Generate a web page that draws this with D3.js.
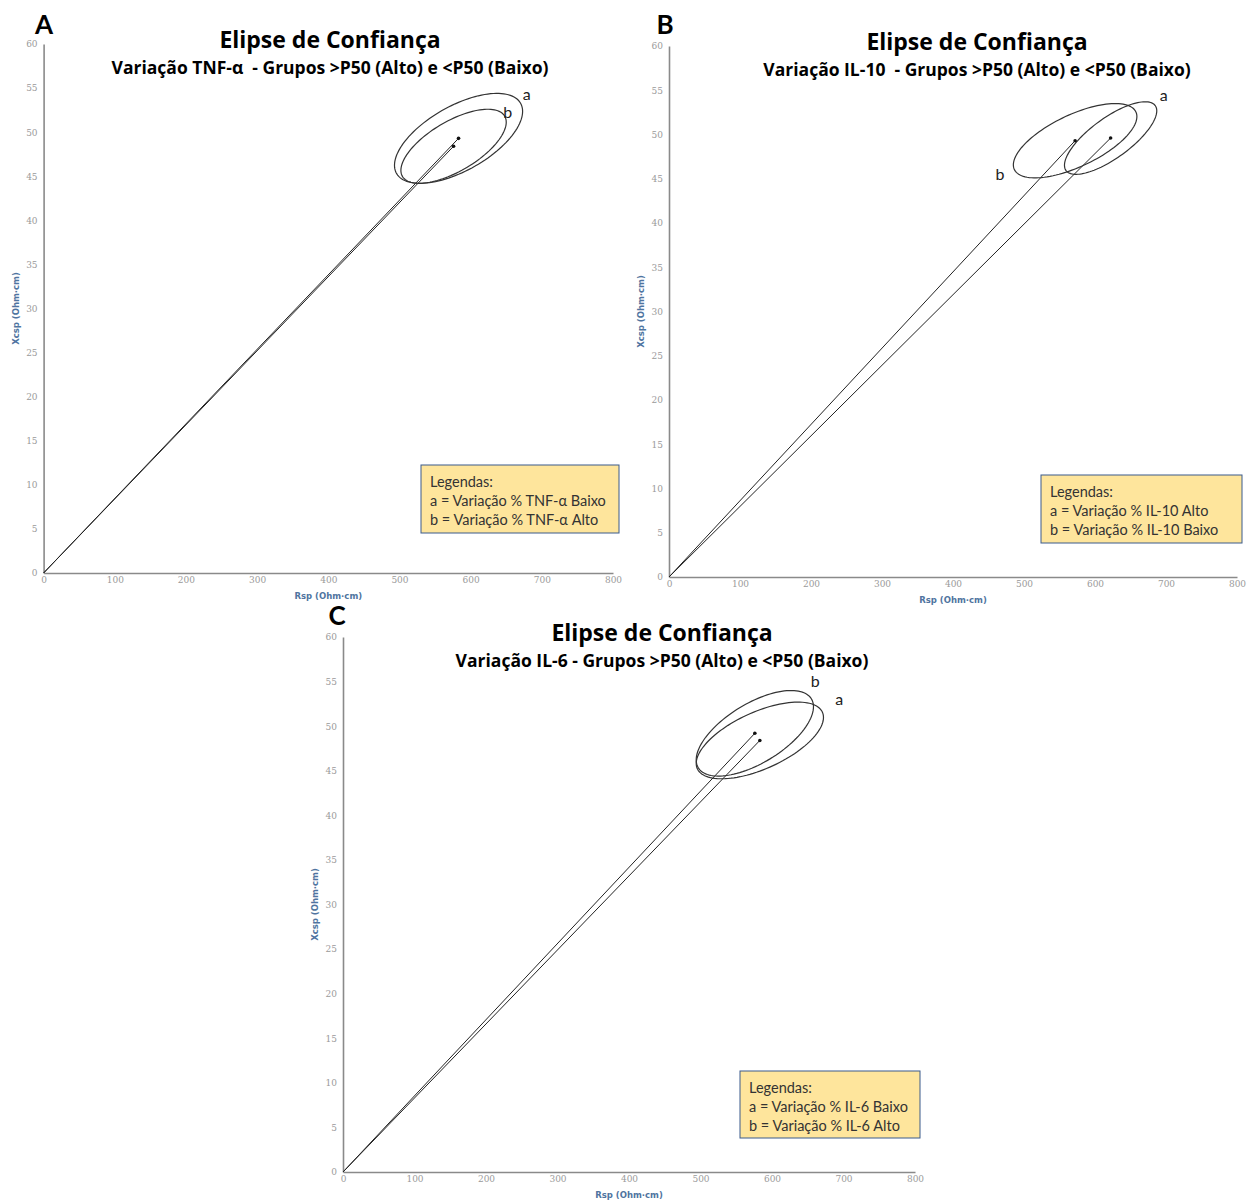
<!DOCTYPE html>
<html>
<head>
<meta charset="utf-8">
<script src="https://cdn.jsdelivr.net/npm/d3@7"></script>
<style>
  body { margin: 0; background: #fff; }
  text { font-family: Lato, "Open Sans", sans-serif; white-space: pre; }
</style>
</head>
<body>
<script>
// chart values
var panelLetters = ["A", "B", "C"];
var titles = ["Elipse de Confiança", "Elipse de Confiança", "Elipse de Confiança"];
var subtitles = [
  "Variação TNF-α  - Grupos >P50 (Alto) e <P50 (Baixo)",
  "Variação IL-10  - Grupos >P50 (Alto) e <P50 (Baixo)",
  "Variação IL-6 - Grupos >P50 (Alto) e <P50 (Baixo)"
];
var groupNames = ["a", "b"];
// mean vectors (Rsp, Xcsp) per panel, per group [a, b]
var meanRsp  = [[583, 576], [622, 572], [583, 576]];
var meanXcsp = [[49.3, 48.4], [49.6, 49.3], [48.4, 49.2]];
// ellipse spread and correlation
var sdRsp  = [[90, 74], [65, 87], [89, 82]];
var sdXcsp = [[5.1, 4.2], [4.1, 4.2], [4.3, 4.8]];
var corr   = [[0.6, 0.65], [0.75, 0.65], [0.6, 0.62]];
var legendLines = [
  ["Legendas:", "a = Variação % TNF-α Baixo", "b = Variação % TNF-α Alto"],
  ["Legendas:", "a = Variação % IL-10 Alto", "b = Variação % IL-10 Baixo"],
  ["Legendas:", "a = Variação % IL-6 Baixo", "b = Variação % IL-6 Alto"]
];
var xTicks = [0, 100, 200, 300, 400, 500, 600, 700, 800];
var yTicks = [0, 5, 10, 15, 20, 25, 30, 35, 40, 45, 50, 55, 60];
var xLabel = "Rsp (Ohm·cm)";
var yLabel = "Xcsp (Ohm·cm)";

// layout of the three panels (pixels)
var layout = [
  {left: 43.6, right: 613, bottom: 573, top: 44, letter: [44, 25], titleX: 330, titleY: 40, subY: 68,
   legend: [421, 465, 198, 68], lab: [[0.3, 7, -6], [0.5, 8, 2]]},
  {left: 669, right: 1237, bottom: 577, top: 46, letter: [665, 25], titleX: 977, titleY: 42, subY: 70,
   legend: [1041, 475, 201, 68], lab: [[0.2, 8, -10], [Math.PI + 0.3, -16, 4]]},
  {left: 343, right: 915, bottom: 1172, top: 637, letter: [337, 616], titleX: 662, titleY: 633, subY: 661,
   legend: [740, 1071, 180, 67], lab: [[0.2, 17, -11], [0.6, 12, -9]]}
];

var svg = d3.select("body").append("svg")
    .attr("width", 1247)
    .attr("height", 1201);

function ellipsePoints(p, g) {
  var pts = [];
  var s = Math.sqrt(1 - corr[p][g] * corr[p][g]);
  for (var i = 0; i <= 120; i++) {
    var t = i / 120 * 2 * Math.PI;
    pts.push([meanRsp[p][g] + sdRsp[p][g] * Math.cos(t),
              meanXcsp[p][g] + sdXcsp[p][g] * (corr[p][g] * Math.cos(t) + s * Math.sin(t))]);
  }
  return pts;
}

panelLetters.forEach(function(letter, p) {
  var L = layout[p];
  var g = svg.append("g");

  var x = d3.scaleLinear().domain([0, 800]).range([L.left, L.right]);
  var y = d3.scaleLinear().domain([0, 60]).range([L.bottom, L.top]);

  // axes
  var ax = g.append("g")
      .attr("transform", "translate(0," + L.bottom + ")")
      .call(d3.axisBottom(x).tickValues(xTicks).tickSize(0).tickPadding(4));
  var ay = g.append("g")
      .attr("transform", "translate(" + L.left + ",0)")
      .call(d3.axisLeft(y).tickValues(yTicks).tickSize(0).tickPadding(6));
  [ax, ay].forEach(function(a) {
    a.select(".domain").attr("stroke", "#8a8a8a").attr("stroke-width", 1.6);
    a.selectAll("text").attr("fill", "#9a9a9a").style("font-size", "9px")
      .style("font-family", "DejaVu Serif, serif");
  });

  g.append("text")
      .attr("x", (L.left + L.right) / 2).attr("y", L.bottom + 26)
      .attr("text-anchor", "middle")
      .attr("fill", "#4f74a0").style("font-size", "8.5px").style("font-weight", "bold")
      .style("font-family", "DejaVu Sans, sans-serif")
      .text(xLabel);
  g.append("text")
      .attr("transform", "translate(" + (L.left - 25) + "," + ((L.top + L.bottom) / 2) + ") rotate(-90)")
      .attr("text-anchor", "middle")
      .attr("fill", "#4f74a0").style("font-size", "8.5px").style("font-weight", "bold")
      .style("font-family", "DejaVu Sans, sans-serif")
      .text(yLabel);

  // titles
  g.append("text").attr("x", L.letter[0]).attr("y", L.letter[1] + 9)
      .attr("text-anchor", "middle")
      .style("font-size", "26px").style("font-weight", "bold").text(letter);
  g.append("text").attr("x", L.titleX).attr("y", L.titleY + 8)
      .attr("text-anchor", "middle")
      .style("font-family", "Open Sans, sans-serif")
      .style("font-size", "23px").style("font-weight", "bold").text(titles[p]);
  g.append("text").attr("x", L.titleX).attr("y", L.subY + 6)
      .attr("text-anchor", "middle")
      .style("font-family", "Open Sans, sans-serif")
      .style("font-size", "17.5px").style("font-weight", "bold").text(subtitles[p]);

  var line = d3.line().x(function(d) { return x(d[0]); }).y(function(d) { return y(d[1]); });

  groupNames.forEach(function(name, k) {
    // vector from origin to the mean
    g.append("path")
        .attr("d", line([[0, 0], [meanRsp[p][k], meanXcsp[p][k]]]))
        .attr("fill", "none").attr("stroke", "#222").attr("stroke-width", 1);
    g.append("circle")
        .attr("cx", x(meanRsp[p][k])).attr("cy", y(meanXcsp[p][k]))
        .attr("r", 1.8).attr("fill", "#111");
    // confidence ellipse
    g.append("path")
        .attr("d", line(ellipsePoints(p, k)) + "Z")
        .attr("fill", "none").attr("stroke", "#333").attr("stroke-width", 1.2);
    // group label
    var t = L.lab[k][0];
    var s = Math.sqrt(1 - corr[p][k] * corr[p][k]);
    var lx = meanRsp[p][k] + sdRsp[p][k] * Math.cos(t);
    var ly = meanXcsp[p][k] + sdXcsp[p][k] * (corr[p][k] * Math.cos(t) + s * Math.sin(t));
    g.append("text")
        .attr("x", x(lx) + L.lab[k][1]).attr("y", y(ly) + L.lab[k][2])
        .attr("text-anchor", "middle").attr("dominant-baseline", "middle")
        .attr("fill", "#222").style("font-size", "16px").text(name);
  });

  // legend box
  var lg = L.legend;
  g.append("rect")
      .attr("x", lg[0]).attr("y", lg[1]).attr("width", lg[2]).attr("height", lg[3])
      .attr("fill", "#fee59c").attr("stroke", "#3a5a8c").attr("stroke-width", 1);
  legendLines[p].forEach(function(txt, i) {
    g.append("text")
        .attr("x", lg[0] + 9).attr("y", lg[1] + 22 + i * 19)
        .attr("fill", "#333").style("font-size", "14.5px").text(txt);
  });
});
</script>
</body>
</html>
